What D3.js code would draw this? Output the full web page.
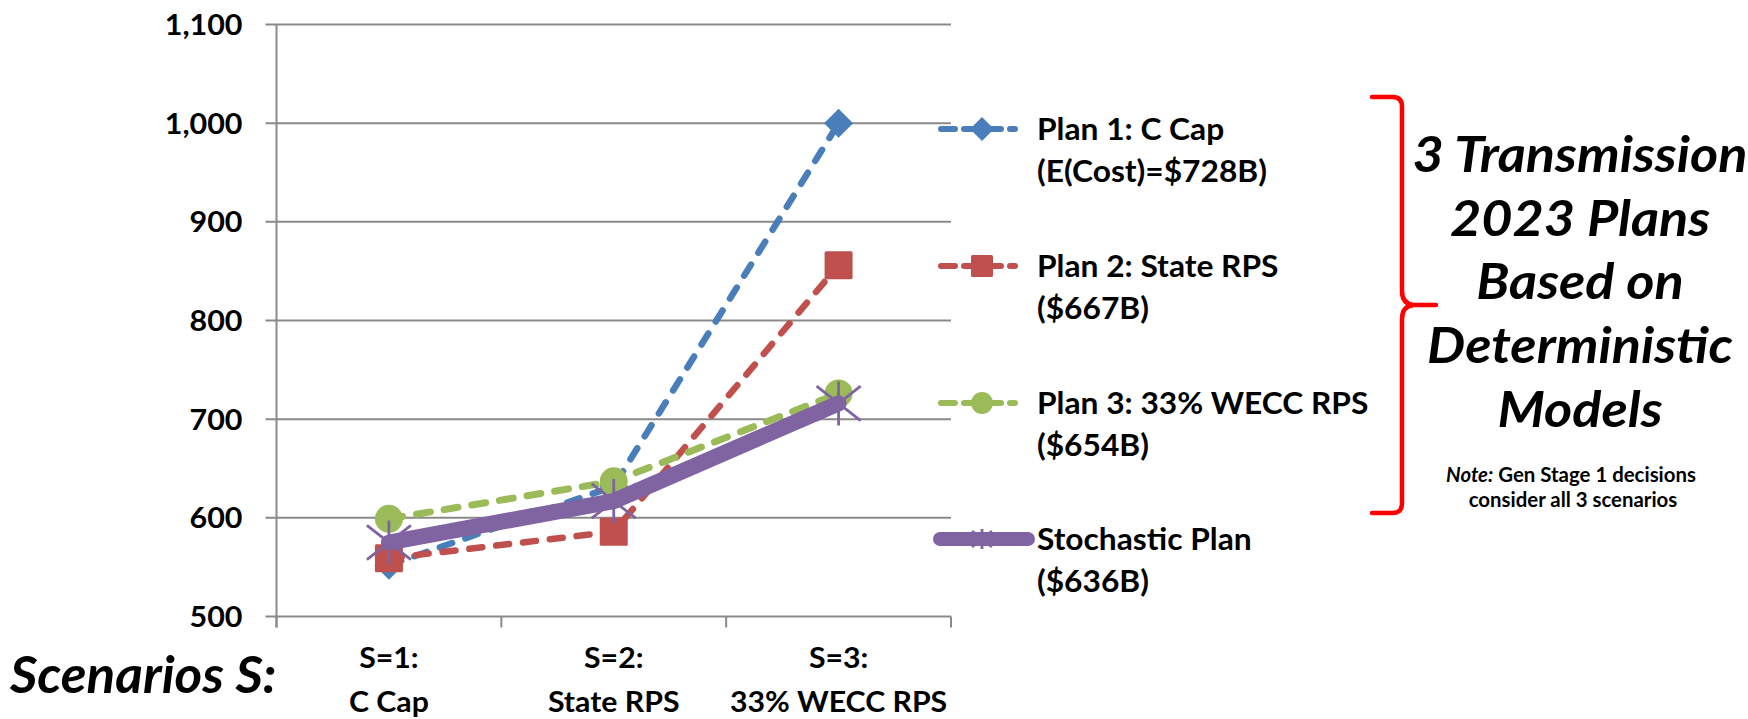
<!DOCTYPE html>
<html>
<head>
<meta charset="utf-8">
<script src="https://cdn.jsdelivr.net/npm/d3@7"></script>
<style>
  html, body { margin: 0; padding: 0; background: #ffffff; }
  svg { display: block; }
</style>
</head>
<body>
<svg id="chart" width="1748" height="719"></svg>
<script>
// ---- data ----
const categories = ["S=1:|C Cap", "S=2:|State RPS", "S=3:|33% WECC RPS"];
const plan1 = [552, 632, 1000];
const plan2 = [559, 586, 856];
const plan3 = [599, 637, 726];
const stochastic = [575, 617, 716];
const yTicks = [500, 600, 700, 800, 900, 1000, 1100];

const seriesNames = ["Plan 1: C Cap", "Plan 2: State RPS", "Plan 3: 33% WECC RPS", "Stochastic Plan"];
const seriesCosts = ["(E(Cost)=$728B)", "($667B)", "($654B)", "($636B)"];

const sideTitle = ["3 Transmission", "2023 Plans", "Based on", "Deterministic", "Models"];
const noteLines = ["Gen Stage 1 decisions", "consider all 3 scenarios"];
const axisTitle = "Scenarios S:";

// ---- layout ----
const svg = d3.select("#chart");
const plot = { left: 276.5, right: 951, top: 24.5, bottom: 616.5 };
const gridColor = "#8a8a8a";
const FONT = "Lato, 'DejaVu Sans', sans-serif";

const x = d3.scaleBand().domain(categories).range([plot.left, plot.right]);
const y = d3.scaleLinear().domain([500, 1100]).range([plot.bottom, plot.top]);
const cx = d => x(d) + x.bandwidth() / 2;

// text placed at (px, py) with a slight horizontal widening
function wideText(parent, px, py, str, sx, anchor) {
  return parent.append("text")
    .attr("transform", `translate(${px},${py}) scale(${sx},1)`)
    .attr("text-anchor", anchor || "start")
    .text(str);
}

// gridlines (with short outside ticks on the left)
svg.append("g").selectAll("line").data(yTicks).join("line")
  .attr("x1", plot.left - 11).attr("x2", plot.right)
  .attr("y1", d => y(d)).attr("y2", d => y(d))
  .attr("stroke", gridColor).attr("stroke-width", 2);

// y axis line
svg.append("line")
  .attr("x1", plot.left).attr("x2", plot.left)
  .attr("y1", plot.top).attr("y2", plot.bottom + 11)
  .attr("stroke", gridColor).attr("stroke-width", 2);

// y tick labels
const fmt = d3.format(",");
const yl = svg.append("g")
  .attr("font-family", FONT).attr("font-weight", "bold")
  .attr("font-size", 29).attr("fill", "#000");
yTicks.forEach(v => wideText(yl, plot.left - 34, y(v) + 10.5, fmt(v), 1.05, "end"));

// x axis ticks at category boundaries
const bounds = categories.map(c => x(c)).concat([plot.right]);
svg.append("g").selectAll("line").data(bounds).join("line")
  .attr("x1", d => d).attr("x2", d => d)
  .attr("y1", plot.bottom).attr("y2", plot.bottom + 11)
  .attr("stroke", gridColor).attr("stroke-width", 2);

// category labels (two lines)
const xl = svg.append("g")
  .attr("font-family", FONT).attr("font-weight", "bold")
  .attr("font-size", 28).attr("fill", "#000");
categories.forEach(c => {
  const parts = c.split("|");
  wideText(xl, cx(c), 668, parts[0], 1.08, "middle");
  wideText(xl, cx(c), 712, parts[1], 1.08, "middle");
});

// ---- series ----
const series = [
  { name: seriesNames[0], values: plan1, color: "#4a7ebb", width: 6.5, dash: "13 14", marker: "diamond" },
  { name: seriesNames[1], values: plan2, color: "#c0504d", width: 6.5, dash: "13 14", marker: "square" },
  { name: seriesNames[2], values: plan3, color: "#9bbb59", width: 7, dash: "14 14", marker: "circle" },
  { name: seriesNames[3], values: stochastic, color: "#8064a2", width: 16, dash: null, marker: "star" }
];

const line = d3.line().x((d, i) => cx(categories[i])).y(d => y(d));

function drawMarker(g, type, px, py, color, s) {
  if (type === "diamond") {
    g.append("path")
      .attr("d", `M${px},${py - s}L${px + s},${py}L${px},${py + s}L${px - s},${py}Z`)
      .attr("fill", color);
  } else if (type === "square") {
    g.append("rect").attr("x", px - s).attr("y", py - s)
      .attr("width", 2 * s).attr("height", 2 * s).attr("rx", 1.5).attr("fill", color);
  } else if (type === "circle") {
    g.append("circle").attr("cx", px).attr("cy", py).attr("r", s).attr("fill", color);
  } else if (type === "star") {
    const p = `M${px - s},${py - s * 0.78}L${px + s},${py + s * 0.78}` +
              `M${px - s},${py + s * 0.78}L${px + s},${py - s * 0.78}` +
              `M${px},${py - s}L${px},${py + s}`;
    g.append("path").attr("d", p).attr("stroke", color).attr("stroke-width", 2.8).attr("fill", "none");
  }
}

const markerSize = { diamond: 14.5, square: 14, circle: 14, star: 22 };

series.forEach(s => {
  const g = svg.append("g");
  g.append("path").datum(s.values)
    .attr("d", line)
    .attr("fill", "none")
    .attr("stroke", s.color)
    .attr("stroke-width", s.width)
    .attr("stroke-linecap", "round")
    .attr("stroke-linejoin", "round")
    .attr("stroke-dasharray", s.dash);
  s.values.forEach((v, i) => drawMarker(g, s.marker, cx(categories[i]), y(v), s.color, markerSize[s.marker]));
});

// ---- legend ----
const legendY = [129, 266, 403, 539];
const legend = svg.append("g");
series.forEach((s, i) => {
  const ly = legendY[i];
  const g = legend.append("g");
  if (s.dash) {
    g.append("line").attr("x1", 941).attr("x2", 1015).attr("y1", ly).attr("y2", ly)
      .attr("stroke", s.color).attr("stroke-width", 6)
      .attr("stroke-linecap", "round").attr("stroke-dasharray", "14 9");
    drawMarker(g, s.marker, 982, ly, s.color, s.marker === "diamond" ? 12 : 11);
  } else {
    g.append("line").attr("x1", 940).attr("x2", 1028).attr("y1", ly).attr("y2", ly)
      .attr("stroke", s.color).attr("stroke-width", 14).attr("stroke-linecap", "round");
    drawMarker(g, s.marker, 982, ly, s.color, 10);
  }
  const t = g.append("g")
    .attr("font-family", FONT).attr("font-weight", "bold")
    .attr("font-size", 30.5).attr("fill", "#000");
  wideText(t, 1037, ly + 11, s.name, 1.04);
  wideText(t, 1037, ly + 53, seriesCosts[i], 1.04);
});

// ---- annotations ----
const title = svg.append("g")
  .attr("font-family", FONT).attr("font-weight", "bold")
  .attr("font-style", "italic").attr("font-size", 51).attr("fill", "#000");
wideText(title, 10, 693, axisTitle, 1.04);

// red brace
svg.append("path")
  .attr("d", "M1372,97 L1393,97 Q1402,97 1402,107 L1402,291 Q1402,304 1414,305 L1436,305 " +
             "M1414,305 Q1402,306 1402,319 L1402,503 Q1402,513 1393,513 L1372,513")
  .attr("fill", "none").attr("stroke", "#ff0000").attr("stroke-width", 4.5)
  .attr("stroke-linecap", "round").attr("stroke-linejoin", "round");

const side = svg.append("g")
  .attr("font-family", FONT).attr("font-weight", "bold")
  .attr("font-style", "italic").attr("font-size", 50).attr("fill", "#000");
sideTitle.forEach((t, i) => wideText(side, 1580, 172 + i * 63.7, t, 1.08, "middle"));

const note = svg.append("g")
  .attr("font-family", FONT).attr("font-weight", "bold")
  .attr("font-size", 20).attr("fill", "#000");
const n1 = note.append("text")
  .attr("transform", "translate(1571,482) scale(1.02,1)")
  .attr("text-anchor", "middle");
n1.append("tspan").attr("font-style", "italic").text("Note:");
n1.append("tspan").text(" " + noteLines[0]);
wideText(note, 1573, 507, noteLines[1], 1.02, "middle");
</script>
</body>
</html>
